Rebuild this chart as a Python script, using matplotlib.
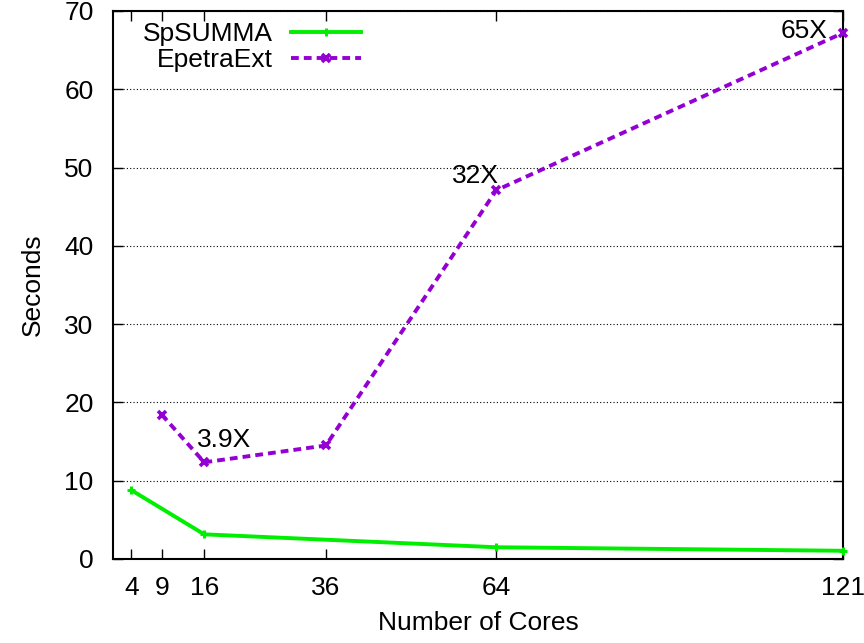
import matplotlib
matplotlib.use('Agg')
import matplotlib.pyplot as plt

plt.rcParams['font.family'] = ['Liberation Sans', 'DejaVu Sans']

cores = [4, 9, 16, 36, 64, 121]
spsumma_cores = [4, 16, 64, 121]
spsumma_sec = [8.8, 3.15, 1.5, 1.05]
epetra_cores = [9, 16, 36, 64, 121]
epetra_sec = [18.45, 12.35, 14.5, 47.1, 67.2]

# speedup labels (core count, text)
speedups = [(16, '3.9X'), (64, '32X'), (121, '65X')]

fs = 19

fig = plt.figure(figsize=(8.64, 6.43), dpi=100)
ax = fig.add_axes([113 / 864, 1 - 559 / 643, (843 - 113) / 864, (559 - 11) / 643])

ax.plot(spsumma_cores, spsumma_sec, color='#00ee00', lw=2.8, marker='+', ms=6, mew=2.2,
        label='SpSUMMA', clip_on=False, zorder=3)
ax.plot(epetra_cores, epetra_sec, color='#9400d3', lw=2.8, ls=(0, (2, 1.3)), marker='x', ms=5.5,
        mew=2.6, label='EpetraExt', clip_on=False, zorder=3)

epetra = dict(zip(epetra_cores, epetra_sec))
ax.text(16 - 1.2, epetra[16] + 1.3, speedups[0][1], fontsize=fs, ha='left', va='bottom')
ax.text(64 + 0.5, epetra[64] + 0.3, speedups[1][1], fontsize=fs, ha='right', va='bottom')
ax.text(121 - 2.5, epetra[121] - 1.3, speedups[2][1], fontsize=fs, ha='right', va='bottom')

ax.set_xlim(1, 121)
ax.set_ylim(0, 70)
ax.set_xticks(cores)
ax.set_yticks(range(0, 71, 10))
ax.tick_params(direction='in', top=True, right=True, labelsize=fs, length=7, width=1, pad=12)
ax.tick_params(axis='y', pad=14)
ax.yaxis.grid(True, linestyle=(0, (1, 2)), color='black', lw=0.8)
for s in ax.spines.values():
    s.set_linewidth(1.5)

ax.set_xlabel('Number of Cores', fontsize=fs, labelpad=8)
ax.set_ylabel('Seconds', fontsize=fs, labelpad=14)

ax.legend(loc='upper left', bbox_to_anchor=(0.015, 1.014), frameon=False, markerfirst=False,
          fontsize=fs, handlelength=2.65, handletextpad=0.7, labelspacing=0.1, borderaxespad=0.3)

fig.savefig('out.png', dpi=100)
